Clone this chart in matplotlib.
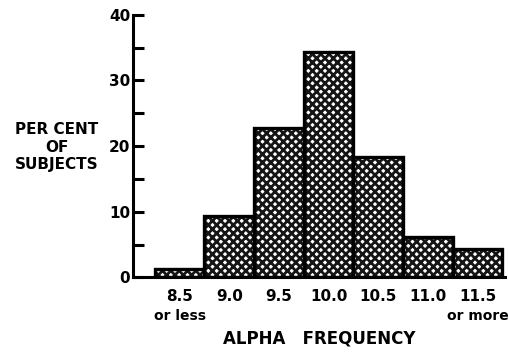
import matplotlib
matplotlib.use("Agg")
import matplotlib.pyplot as plt
import numpy as np

categories = ["8.5\nor less", "9.0", "9.5", "10.0", "10.5", "11.0", "11.5\nor more"]
percent = [1.3, 9.4, 22.8, 34.4, 18.4, 6.2, 4.3]
y_ticks = [0, 10, 20, 30, 40]
y_minor = [5, 15, 25, 35]

plt.rcParams['font.family'] = ['DejaVu Sans']
plt.rcParams['font.weight'] = 'bold'
plt.rcParams['hatch.linewidth'] = 2.0

fig = plt.figure(figsize=(5.09, 3.53), dpi=100)
ax = fig.add_axes([0.261, 0.214, 0.992 - 0.261, 0.958 - 0.214])

x = np.arange(len(categories))
ax.bar(x, percent, width=1.0, facecolor='white', edgecolor='#151515',
       hatch='xxxx', linewidth=0)
ax.bar(x, percent, width=1.0, facecolor='none', edgecolor='black', linewidth=2.4)

ax.set_xlim(-0.94, 6.55)
ax.set_ylim(0, 40)
for s in ['top', 'right']:
    ax.spines[s].set_visible(False)
ax.spines['left'].set_linewidth(2.2)
ax.spines['bottom'].set_linewidth(2.2)

ax.set_yticks(y_ticks)
ax.set_yticks(y_minor, minor=True)
ax.tick_params(axis='y', which='both', direction='in', length=8, width=2.2,
               labelsize=11, pad=2)
ax.set_yticklabels([str(v) for v in y_ticks], fontweight='bold')

ax.set_xticks(x)
ax.set_xticklabels([c.split("\n")[0] for c in categories], fontsize=11, fontweight='bold')
ax.tick_params(axis='x', length=0, pad=8)

# sub-labels
for xi, c in zip(x, categories):
    parts = c.split("\n")
    if len(parts) > 1:
        ax.text(xi, -0.12, parts[1], transform=ax.get_xaxis_transform(),
                ha='center', va='top', fontsize=10, fontweight='bold')

ax.set_xlabel("A LPHA   FREQUENCY".replace("A LPHA", "ALPHA"), fontsize=12,
              fontweight='bold', labelpad=19)

fig.text(57/509, 1 - 147/353, "PER CENT\nOF\nSUBJECTS", ha='center', va='center',
         fontsize=11, fontweight='bold', linespacing=1.25)

fig.savefig("out.png", dpi=100)
